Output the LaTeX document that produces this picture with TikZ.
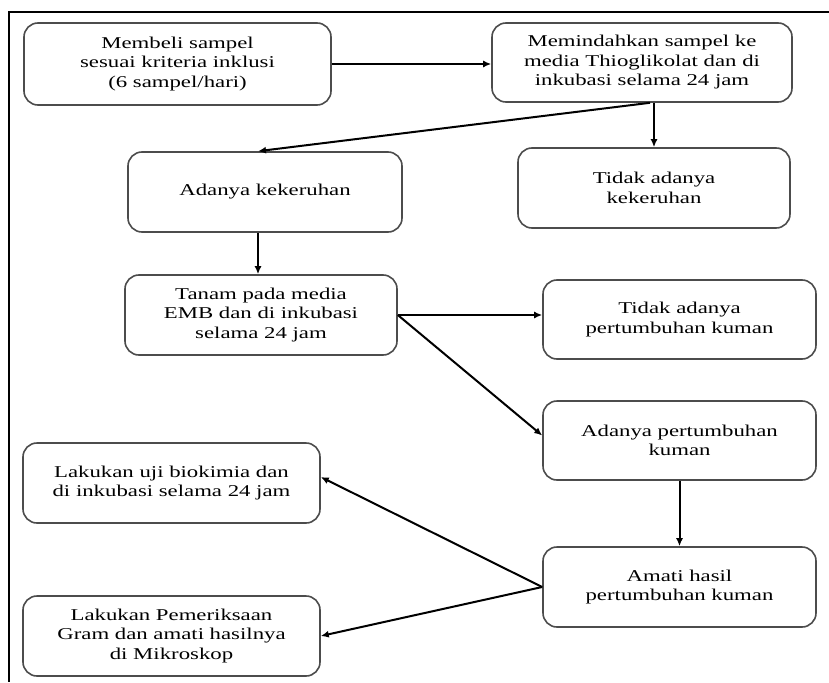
\documentclass[tikz,border=0pt]{standalone}
\usepackage{xcolor}
\usepackage{tikz}
\usepackage{fontspec}
\setmainfont{Liberation Serif}[FakeStretch=1.38]
\usetikzlibrary{arrows.meta}

\begin{document}
\begin{tikzpicture}[x=1pt, y=-1pt,
  box/.style={draw=black!70, line width=1.6pt, rounded corners=14pt, align=center,
    inner sep=0pt, font=\fontsize{16.5}{19.5}\selectfont},
  arr/.style={line width=2pt, -{Latex[length=8pt,width=7pt]}}]
\useasboundingbox (0,0) rectangle (829,682);
\draw[line width=2.5pt] (829,12) -- (9,12) -- (9,682);

\node[box, minimum width=307pt, minimum height=82pt] (beli) at (177.5,64) {
Membeli sampel\\
sesuai kriteria inklusi\\
(6 sampel/hari)};
\node[box, minimum width=300pt, minimum height=79pt] (pindah) at (642,62.5) {
Memindahkan sampel ke\\
media Thioglikolat dan di\\
inkubasi selama 24 jam};
\node[box, minimum width=274pt, minimum height=80pt] (keruh) at (265,192) {
Adanya kekeruhan};
\node[box, minimum width=272pt, minimum height=80pt] (tidakkeruh) at (654,188) {
Tidak adanya\\
kekeruhan};
\node[box, minimum width=272pt, minimum height=80pt] (tanam) at (261,315) {
Tanam pada media\\
EMB dan di inkubasi\\
selama 24 jam};
\node[box, minimum width=273pt, minimum height=79pt] (tidaktumbuh) at (679.5,319.5) {
Tidak adanya\\
pertumbuhan kuman};
\node[box, minimum width=273pt, minimum height=79pt] (tumbuh) at (679.5,440.5) {
Adanya pertumbuhan\\
kuman};
\node[box, minimum width=273pt, minimum height=80pt] (amati) at (679.5,587) {
Amati hasil\\
pertumbuhan kuman};
\node[box, minimum width=297pt, minimum height=80pt] (biokimia) at (171.5,483) {
Lakukan uji biokimia dan\\
di inkubasi selama 24 jam};
\node[box, minimum width=297pt, minimum height=80pt] (gram) at (171.5,636) {
Lakukan Pemeriksaan\\
Gram dan amati hasilnya\\
di Mikroskop};

\draw[arr] (beli.east) -- (beli.east -| pindah.west);
\draw[arr] ([xshift=8pt]pindah.south) -- ([xshift=-7pt]keruh.north);
\draw[arr] (tidakkeruh.north |- pindah.south) -- (tidakkeruh.north);
\draw[arr] ([xshift=-7pt]keruh.south) -- ([xshift=-7pt]keruh.south |- tanam.north);
\draw[arr] (tanam.east) -- (tanam.east -| tidaktumbuh.west);
\draw[arr] (tanam.east) -- ([yshift=5pt]tumbuh.west);
\draw[arr] (tumbuh.south) -- (amati.north);
\draw[arr] (amati.west) -- ([yshift=6pt]biokimia.east);
\draw[arr] (amati.west) -- (gram.east);
\end{tikzpicture}
\end{document}
